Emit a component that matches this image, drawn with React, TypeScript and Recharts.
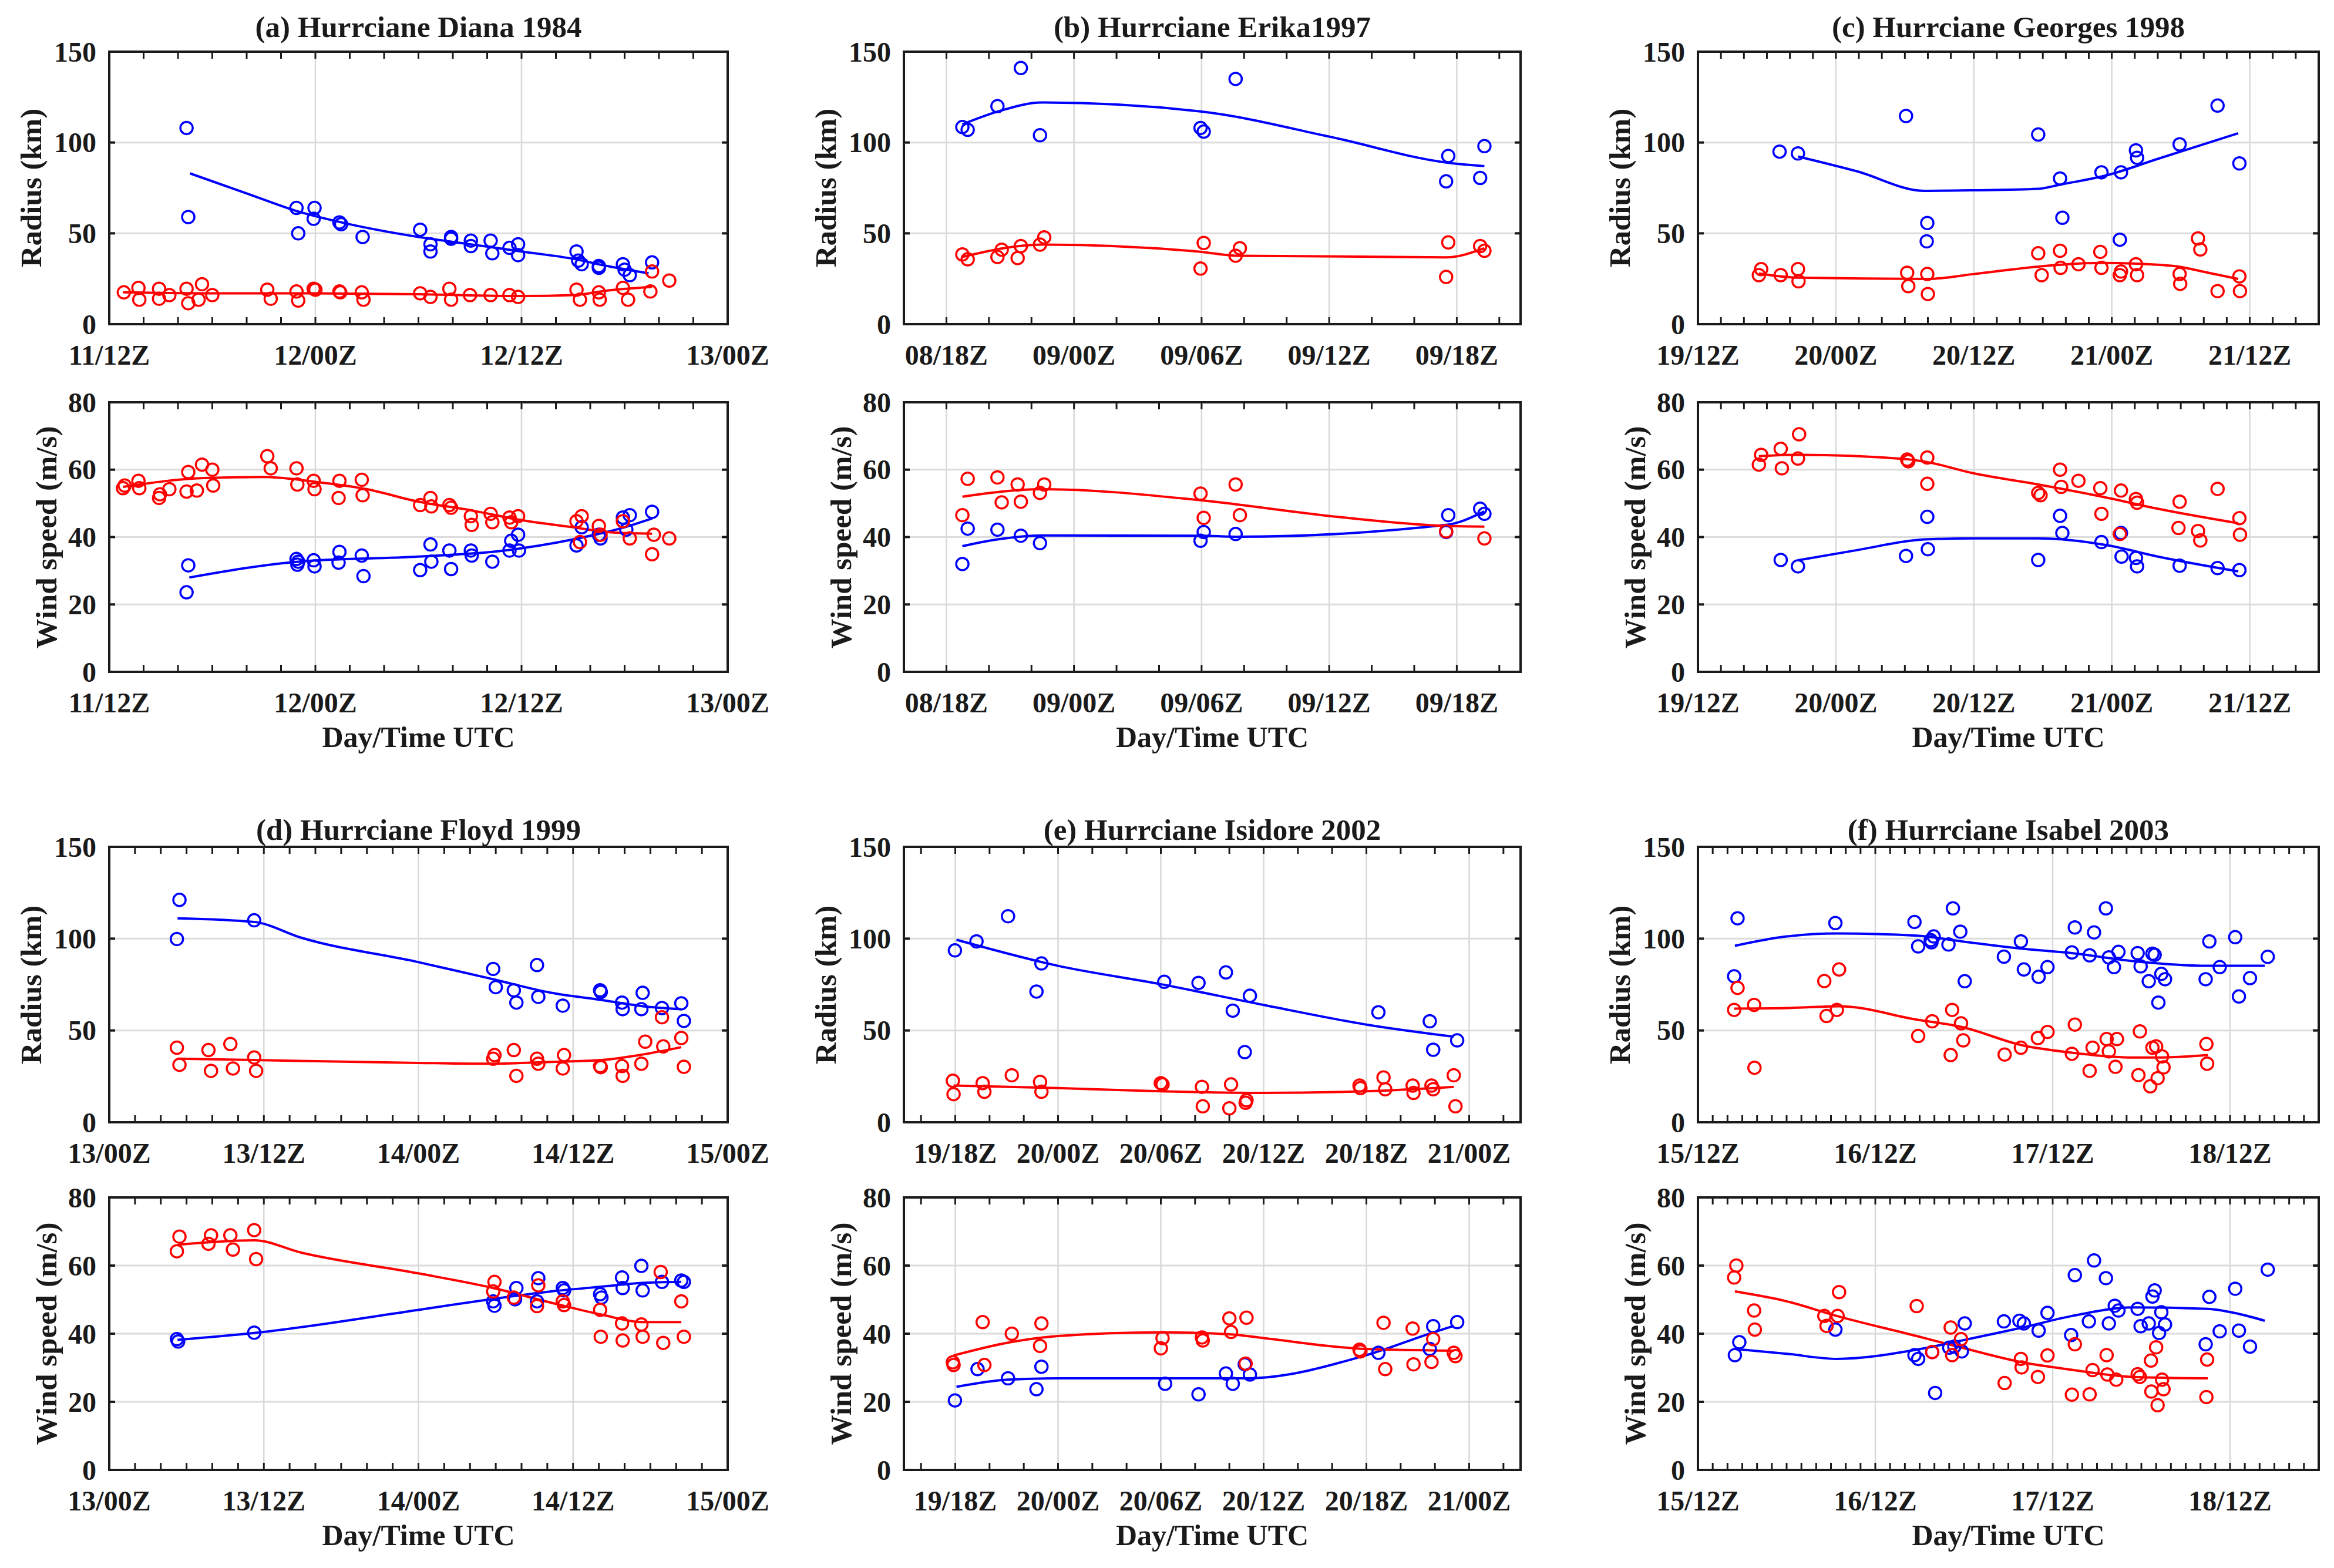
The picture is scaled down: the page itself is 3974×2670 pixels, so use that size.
import React from "react"
import { ComposedChart, XAxis, YAxis, Scatter, Line, ReferenceLine, ReferenceArea } from "recharts"

type P = [number, number]

const FONT = '"Liberation Serif", "Times New Roman", serif'
const BLUE = "#0000ff"
const RED = "#ff0000"
const INK = "#1a1a1a"

// (a) Diana 1984, hours after 11/12Z
const aLabels = ["11/12Z", "12/00Z", "12/12Z", "13/00Z"]
const aRadBlue: P[] = [[4.5,108],[4.6,59],[10.9,64],[11.0,50],[11.95,64],[11.9,58],[13.4,56],[13.5,55],[14.75,48],[18.1,52],[18.7,44],[18.7,40],[19.9,48],[19.9,47],[21.05,46],[21.05,43],[22.2,46],[22.3,39],[23.3,42],[23.8,44],[23.8,38],[27.2,40],[27.3,35],[27.5,33],[28.5,32],[28.5,31],[29.9,33],[30.0,30],[30.3,27],[31.6,34]]
const aRadBlueFit: P[] = [[4.7,83],[8,72],[11,62],[14,55],[18,48],[21,44],[24,40],[27,36],[29,32],[31.4,28]]
const aRadRed: P[] = [[0.85,17.5],[1.7,20],[1.75,13.5],[2.9,19.5],[2.9,14],[3.5,16],[4.5,19.5],[4.6,11.5],[5.2,13.5],[5.4,22],[6.0,16],[9.2,19],[9.4,14],[10.9,18],[11.0,13],[11.9,19.5],[12.0,19],[13.4,18],[13.45,17.5],[14.7,17.5],[14.8,13.5],[18.1,17],[18.7,15],[19.8,19.5],[19.9,13.5],[21.0,16],[22.2,16],[23.3,16],[23.8,15],[27.2,19],[27.4,13.5],[28.5,17.5],[28.55,13.5],[29.9,20],[30.2,13.5],[31.6,29],[31.5,18],[32.6,24]]
const aRadRedFit: P[] = [[0.8,17.5],[6,17],[12,17],[18,16.5],[24,15.5],[27,16],[29,18.5],[31.6,20.5]]
const aWindRed: P[] = [[0.8,54.5],[0.9,55.3],[1.7,56.7],[1.75,54.5],[2.9,51.6],[2.95,52.7],[3.5,54.2],[4.6,59.3],[4.5,53.5],[5.1,53.8],[5.4,61.5],[6.0,60],[6.05,55.3],[9.2,64],[9.4,60.4],[10.9,60.4],[10.95,55.6],[11.9,56.7],[11.95,54.2],[13.4,56.7],[13.35,51.6],[14.7,57],[14.75,52.4],[18.1,49.5],[18.7,51.6],[18.75,49.1],[19.8,49.5],[19.9,48.7],[21.05,46.2],[21.1,43.6],[22.2,46.9],[22.3,44.4],[23.3,45.8],[23.8,46.2],[23.4,44.4],[27.2,44.7],[27.5,46.2],[27.4,38.5],[28.5,43.3],[28.6,40.7],[29.9,44.7],[30.3,39.6],[31.7,40.7],[31.6,34.9],[32.6,39.6]]
const aWindRedFit: P[] = [[0.8,54.9],[5.5,57.5],[9,57.8],[12,56.4],[15,54.2],[18,50.5],[21,48],[24,45],[27,42.9],[29,41.5],[31.6,41]]
const aWindBlue: P[] = [[4.6,31.6],[4.5,23.6],[10.9,33.5],[11.0,32.7],[10.95,31.8],[11.9,33.1],[11.95,31.3],[13.4,35.6],[13.35,32.4],[14.7,34.5],[14.8,28.4],[18.1,30.2],[18.7,37.8],[18.75,32.7],[19.8,36],[19.9,30.5],[21.05,36],[21.1,34.5],[22.3,32.7],[23.3,36],[23.4,38.9],[23.8,40.7],[23.85,36],[27.2,37.5],[27.5,42.9],[28.5,40.7],[28.6,39.6],[29.9,45.8],[30.1,42.2],[30.3,46.5],[31.6,47.5]]
const aWindBlueFit: P[] = [[4.66,28],[11,32.7],[18,34.2],[23,36],[27,39.3],[30,42.9],[31.6,45.5]]

// (b) Erika 1997, hours after 08/16Z
const bLabels = ["08/18Z", "09/00Z", "09/06Z", "09/12Z", "09/18Z"]
const bRadBlue: P[] = [[2.75,108.5],[3.0,107],[4.4,120],[5.5,141],[6.4,104],[13.95,108],[14.1,106],[15.6,135],[25.5,78.6],[25.6,92.6],[27.1,80.5],[27.3,98]]
const bRadBlueFit: P[] = [[2.75,110],[4.4,117],[6.5,122],[14,117],[20.1,103],[25.5,89],[27.3,87]]
const bRadRed: P[] = [[2.75,38.4],[3.0,35.7],[4.4,37],[4.6,41],[5.35,36.4],[5.5,43],[6.4,43.8],[6.6,47.8],[13.95,30.6],[14.1,44.7],[15.6,37.7],[15.8,41.8],[25.5,26],[25.6,45],[27.1,43],[27.3,40.4]]
const bRadRedFit: P[] = [[2.75,37],[6.5,43.8],[14,39.8],[15.6,37.7],[25.5,36.8],[27.3,41.8]]
const bWindRed: P[] = [[2.75,46.5],[3.0,57.3],[4.4,57.7],[4.6,50.3],[5.35,55.6],[5.5,50.5],[6.4,53.1],[6.6,55.6],[13.95,52.9],[14.1,45.7],[15.6,55.6],[15.8,46.5],[25.5,41.7],[27.3,39.6]]
const bWindRedFit: P[] = [[2.75,52],[6.5,54.2],[14,50.9],[20.1,46.2],[25.5,43.3],[27.3,43.1]]
const bWindBlue: P[] = [[2.75,32],[3.0,42.5],[4.4,42.2],[5.5,40.4],[6.4,38.2],[13.95,38.9],[14.1,41.5],[15.6,40.9],[25.5,41.5],[25.6,46.5],[27.1,48.4],[27.3,46.9]]
const bWindBlueFit: P[] = [[2.75,37.3],[4.4,39.3],[6.5,40.5],[14,40.4],[15.6,40.1],[25.5,43.6],[27.3,47.6]]

// (c) Georges 1998, hours after 19/12Z
const cLabels = ["19/12Z", "20/00Z", "20/12Z", "21/00Z", "21/12Z"]
const cRadBlue: P[] = [[7.1,95],[8.7,94],[18.1,114.6],[19.95,55.7],[19.9,45.6],[29.6,104.4],[31.5,80.2],[31.7,58.6],[35.1,83.6],[36.8,83.6],[36.7,46.5],[38.1,95.7],[38.2,91.6],[41.9,99],[45.2,120.3],[47.1,88.5]]
const cRadBlueFit: P[] = [[8.7,92.3],[13.8,84.2],[19.7,73.4],[24,73.7],[29.6,74.5],[31.5,76.8],[35.7,82.2],[40,91],[47,105.1]]
const cRadRed: P[] = [[5.3,27],[5.5,30.3],[7.2,27],[8.7,30.3],[8.75,23.6],[18.2,28.3],[18.3,20.9],[19.95,27.6],[20.0,16.6],[29.6,39],[29.9,27],[31.5,40.4],[31.55,31],[33.1,33],[35,39.8],[35.1,31],[36.8,29],[36.7,27],[38.1,33],[38.2,27],[41.9,27.6],[41.95,22.2],[43.5,47.2],[43.7,41.1],[45.2,18.2],[47.1,26.3],[47.15,18.2]]
const cRadRedFit: P[] = [[5.3,27.9],[8.7,25.6],[20,24.9],[24,27.6],[29.6,31.7],[35,33.7],[38.2,33.3],[41.8,31.7],[44.4,28.3],[47,24.9]]
const cWindRed: P[] = [[5.3,61.5],[5.5,64.4],[7.2,66.2],[7.3,60.4],[8.8,70.5],[8.7,63.3],[18.2,63],[18.3,62.5],[19.95,63.6],[19.95,55.8],[29.6,53.1],[29.8,52.4],[31.5,60],[31.6,54.9],[33.1,56.7],[35,54.5],[35.1,46.9],[36.8,53.8],[36.7,40.9],[38.1,51.3],[38.2,50.2],[41.9,50.5],[41.8,42.7],[43.5,41.8],[43.7,39],[45.2,54.3],[47.1,45.6],[47.15,40.7]]
const cWindRedFit: P[] = [[5.3,64],[8.7,64.4],[18.2,63.1],[20,62.2],[24,58.9],[29.6,55.6],[35.7,51.6],[40,48.4],[47,44.1]]
const cWindBlue: P[] = [[7.2,33.2],[8.7,31.3],[18.1,34.4],[19.95,46],[20.0,36.4],[29.6,33.2],[31.5,46.3],[31.7,41.2],[35.1,38.5],[36.8,41.2],[36.85,34.2],[38.1,33.8],[38.2,31.3],[41.9,31.5],[45.2,30.8],[47.1,30.2]]
const cWindBlueFit: P[] = [[8.7,33.1],[13.8,36.1],[19.7,39.3],[24,39.6],[29.6,39.6],[35.7,37.5],[40,34.2],[47,29.8]]

// (d) Floyd 1999, hours after 13/00Z
const dLabels = ["13/00Z", "13/12Z", "14/00Z", "14/12Z", "15/00Z"]
const dRadBlue: P[] = [[5.45,121.1],[5.25,99.8],[11.25,110],[29.8,83.5],[30,73.6],[31.4,71.9],[31.6,65.2],[33.2,85.6],[33.3,68.3],[35.2,63.5],[38.1,71.9],[38.15,71],[39.8,65.2],[39.85,61.6],[41.4,70.5],[41.3,61.6],[42.9,62.2],[44.4,64.8],[44.6,55.2]]
const dRadBlueFit: P[] = [[5.3,111.1],[11.25,109.1],[14.9,100.5],[24,87.2],[29.8,77.9],[34.3,70.5],[38.2,66.6],[41.4,63.2],[44.4,61.6]]
const dRadRed: P[] = [[5.25,40.6],[5.45,31.3],[7.7,39.3],[7.9,28],[9.4,42.6],[9.6,29.3],[11.25,35.3],[11.4,28],[29.8,34.6],[29.9,36.6],[31.4,39.3],[31.6,25.3],[33.2,34.6],[33.3,31.9],[35.3,36.6],[35.2,29.3],[38.1,30.6],[38.15,30],[39.8,30.6],[39.85,25.3],[41.3,31.9],[41.6,43.9],[42.9,57.2],[43.0,41.3],[44.4,45.9],[44.6,30.2]]
const dRadRedFit: P[] = [[5.3,34.6],[11.25,33.9],[24,32.3],[29.8,31.9],[34.3,32.9],[38.2,33.9],[41.4,36.9],[44.4,40.9]]
const dWindRed: P[] = [[5.25,64.2],[5.45,68.5],[7.7,66.4],[7.9,68.9],[9.4,68.9],[9.6,64.7],[11.25,70.4],[11.4,61.9],[29.9,55.2],[29.8,52.4],[31.4,50.6],[33.2,48.1],[33.3,54.2],[35.2,49.5],[35.3,48.4],[38.1,47],[38.15,39.1],[39.8,43],[39.85,38],[41.3,42.7],[41.4,39.1],[42.8,58.1],[43.0,37.3],[44.4,49.5],[44.6,39.1]]
const dWindRedFit: P[] = [[5.3,66.1],[11.25,67.4],[14.9,63.8],[24,57.7],[29.8,53.4],[34.3,49.1],[38.2,45.6],[41.4,43.4],[44.4,43.4]]
const dWindBlue: P[] = [[5.25,38.4],[5.35,37.7],[11.25,40.3],[29.9,48.2],[29.8,49.5],[31.5,50.1],[31.6,53.4],[33.2,49.5],[33.3,56.3],[35.2,53.4],[35.3,52.7],[38.1,51.6],[38.2,50.6],[39.8,56.5],[39.85,53.4],[41.3,59.9],[41.4,52.7],[42.9,55.2],[44.4,55.6],[44.6,55.2]]
const dWindBlueFit: P[] = [[5.3,38.2],[11.25,40.2],[24,47],[29.8,50.2],[34.3,52.4],[38.2,53.8],[41.4,54.9],[44.4,55.2]]

// (e) Isidore 2002, hours after 19/15Z
const eLabels = ["19/18Z", "20/00Z", "20/06Z", "20/12Z", "20/18Z", "21/00Z"]
const eRadBlue: P[] = [[2.98,93.6],[4.24,98.5],[6.08,112.2],[8.03,86.5],[7.74,71.2],[15.2,76.5],[17.2,75.9],[18.8,81.6],[19.2,60.8],[20.2,68.9],[19.9,38.2],[27.7,59.9],[30.7,55],[30.9,39.5],[32.3,44.6]]
const eRadBlueFit: P[] = [[3.07,99.4],[9,85.2],[15,75.2],[21,63.9],[27,53.2],[32.1,46.6]]
const eRadRed: P[] = [[2.86,22.6],[2.9,15.3],[4.6,21.3],[4.7,16.6],[6.3,25.6],[7.95,22],[8.03,16.6],[15,21.3],[15.1,20.6],[17.4,19.3],[17.45,8.7],[19.1,20.6],[19.0,7.6],[20,12],[19.95,10.6],[26.6,20],[26.65,18.6],[28,24.4],[28.1,18],[29.7,20],[29.75,16],[30.8,20],[30.9,18],[32.1,25.6],[32.2,8.7]]
const eRadRedFit: P[] = [[2.9,20],[9,18.6],[15,16.9],[21,16],[27,16.9],[32.1,19.3]]
const eWindRed: P[] = [[2.86,31.6],[2.9,30.8],[4.6,43.4],[4.7,30.8],[6.3,40],[8.03,43],[7.95,36.4],[15.1,38.7],[15,35.7],[17.4,38.9],[17.45,38],[19,44.5],[19.1,40.5],[20,44.7],[19.95,31.2],[26.6,35.3],[26.65,34.8],[28,43.2],[28.1,29.6],[29.7,41.5],[29.75,31],[30.9,38.4],[30.8,31.7],[32.1,34.4],[32.2,33.4]]
const eWindRedFit: P[] = [[2.9,33.6],[6,37.3],[9,39.3],[15,40.4],[19.1,39.8],[21,38.7],[27,35.5],[32.1,35]]
const eWindBlue: P[] = [[2.98,20.4],[4.3,29.6],[6.08,26.9],[7.74,23.7],[8.03,30.3],[15.25,25.3],[17.2,22.2],[18.8,28.3],[19.2,25.3],[19.9,31],[20.2,28],[27.7,34.4],[30.7,35.5],[30.9,42.2],[32.3,43.4]]
const eWindBlueFit: P[] = [[3.07,24.4],[6.08,26.5],[9,26.9],[15,26.9],[20,26.9],[27,33.7],[30.8,40.2],[32.1,42.3]]

// (f) Isabel 2003, hours after 15/12Z
const fLabels = ["15/12Z", "16/12Z", "17/12Z", "18/12Z"]
const fRadBlue: P[] = [[5.36,111.1],[4.9,79.5],[18.6,108.5],[29.3,109.1],[29.8,95.8],[31.5,99.2],[31.9,101.2],[31.6,98],[33.9,96.8],[34.5,116.5],[35.5,103.8],[36.1,76.8],[41.4,90.2],[43.7,98.5],[44.1,83.2],[46.1,79.2],[47.3,84.5],[50.6,92.5],[51,106.1],[53,90.9],[53.6,103.4],[55.2,116.5],[55.6,89.8],[56.3,84.5],[56.9,92.8],[59.5,92.1],[59.9,84.9],[61,76.8],[61.5,91.8],[61.8,91.2],[62.3,65.2],[62.7,80.8],[63.2,77.9],[68.7,77.9],[69.2,98.5],[70.6,84.5],[72.7,100.8],[73.2,68.5],[74.7,78.5],[77.1,90.1]]
const fRadBlueFit: P[] = [[5,96.1],[12,101.2],[18.8,102.8],[29.6,101.6],[35.7,98.5],[43.9,94.5],[50.6,92.1],[58.8,87.8],[69,85.2],[76.7,85.2]]
const fRadRed: P[] = [[4.9,61.2],[5.36,73.2],[7.6,63.9],[7.65,29.7],[17.1,76.9],[19.1,83.2],[17.4,57.9],[18.8,61.2],[29.8,47],[31.7,55],[34.2,36.6],[34.4,61.2],[35.6,53.9],[35.9,44.6],[41.5,36.9],[43.7,40.6],[46,45.9],[47.3,49.2],[50.6,37.3],[51,53.2],[53,28],[53.4,40.6],[55.3,45.3],[55.6,38.6],[56.5,30.2],[56.7,45.3],[59.6,25.7],[59.8,49.5],[61.2,19.6],[61.5,40.6],[62,41.3],[62.2,24],[62.8,35.9],[63,29.9],[68.8,42.6],[68.9,31.9]]
const fRadRedFit: P[] = [[4.9,61.9],[12,62.2],[19.1,63.2],[29.6,55.9],[35.7,51.9],[43.9,41.9],[50.6,37.9],[58.8,35.3],[62.8,35.3],[69,36.6]]
const fWindRed: P[] = [[5.2,60],[4.9,56.5],[7.6,46.8],[7.7,41.2],[17.1,45.2],[17.4,42.3],[18.9,45.2],[19.1,52.2],[29.6,48.1],[31.7,34.6],[34.2,41.8],[34.4,33.7],[35.6,38.4],[41.5,25.5],[43.7,32.6],[43.8,30.1],[46,27.3],[47.3,33.6],[50.6,22.1],[51,36.9],[53,22.2],[53.4,29.3],[55.3,33.7],[55.4,28],[56.6,26.5],[59.5,28.1],[59.8,27.3],[61.3,32.1],[61.35,23],[62,36],[62.2,19],[62.8,26.5],[63,23.7],[68.9,32.4],[68.8,21.4]]
const fWindRedFit: P[] = [[5,52.4],[12,49.5],[18.8,45.2],[29.6,39.3],[35.7,35.9],[43.9,31.6],[50.6,29.4],[58.8,27.3],[69,26.9]]
const fWindBlue: P[] = [[5,33.7],[5.6,37.5],[18.6,41.2],[29.3,33.7],[29.8,32.6],[31.7,34.6],[32.1,22.6],[34,35.9],[34.7,36.2],[35.7,34.8],[36.1,43],[41.4,43.6],[43.5,43.8],[44.1,43],[46.1,40.9],[47.3,46.1],[50.5,39.6],[51,57.2],[52.9,43.6],[53.6,61.5],[55.2,56.3],[55.6,43],[56.4,48.2],[56.9,46.8],[59.5,47.3],[59.9,42.2],[61,43],[61.5,50.9],[61.8,52.7],[62.4,40.2],[62.7,46.3],[63.2,42.7],[68.7,36.9],[69.2,50.8],[70.6,40.7],[72.7,53.2],[73.2,40.9],[74.7,36.2],[77.1,58.8]]
const fWindBlueFit: P[] = [[5,35.5],[12,34.1],[18.8,32.6],[29.6,35.3],[35.7,38],[43.9,41.8],[50.6,45.2],[58.8,47.7],[69,47.3],[73,45.9],[76.7,43.8]]

const toRows = (pts: P[]) => pts.map(([t, v]) => ({ t, v }))

const ring = (color: string) => (props: any) => {
  if (props.cx == null || props.cy == null) return <g />
  return <circle cx={props.cx} cy={props.cy} r={10.5} fill="none" stroke={color} strokeWidth={3.5} />
}

const ML = 180
const MT = 30
const MR = 140
const XH = 170

interface PanelProps {
  left: number
  top: number
  w: number
  h: number
  xMax: number
  xStart: number
  xStep: number
  majors: number[]
  labels: string[]
  wind: boolean
  blue: P[]
  red: P[]
  blueFit: P[]
  redFit: P[]
  title?: string
  titleGap?: number
}

function Panel(p: PanelProps) {
  const yMax = p.wind ? 80 : 150
  const yTicks = p.wind ? [0, 20, 40, 60, 80] : [0, 50, 100, 150]
  const minor: number[] = []
  for (let t = p.xStart; t <= p.xMax; t += p.xStep) minor.push(t)

  const txt = { fontFamily: FONT, fontWeight: 700, fill: INK }

  const XTick = (props: any) => {
    const { x, y, payload } = props
    const i = p.majors.indexOf(payload.value)
    return (
      <g>
        <line x1={x} x2={x} y1={y} y2={y - 12} stroke={INK} strokeWidth={3} />
        <line x1={x} x2={x} y1={y - p.h} y2={y - p.h + 12} stroke={INK} strokeWidth={3} />
        {i >= 0 && (
          <text x={x} y={y + 52} textAnchor="middle" dominantBaseline="central" fontSize={48} {...txt}>
            {p.labels[i]}
          </text>
        )}
      </g>
    )
  }

  const YTick = (props: any) => {
    const { x, y, payload } = props
    return (
      <g>
        <line x1={x} x2={x + 10} y1={y} y2={y} stroke={INK} strokeWidth={4} />
        <line x1={x + p.w - 10} x2={x + p.w} y1={y} y2={y} stroke={INK} strokeWidth={4} />
        <text x={x - 22} y={y} textAnchor="end" dominantBaseline="central" fontSize={48} {...txt}>
          {payload.value}
        </text>
      </g>
    )
  }

  const label: React.CSSProperties = {
    position: "absolute",
    fontFamily: FONT,
    fontWeight: 700,
    fontSize: 51,
    color: INK,
    whiteSpace: "nowrap",
    lineHeight: 1,
  }

  return (
    <>
      {p.title && (
        <div style={{ ...label, left: p.left + p.w / 2, top: p.top - (p.titleGap ?? 40), transform: "translate(-50%, -50%)" }}>
          {p.title}
        </div>
      )}
      <div
        style={{
          ...label,
          left: p.left - (p.wind ? 107 : 133),
          top: p.top + p.h / 2,
          transform: "translate(-50%, -50%) rotate(-90deg)",
        }}
      >
        {p.wind ? "Wind speed (m/s)" : "Radius (km)"}
      </div>
      {p.wind && (
        <div style={{ ...label, fontSize: 50, left: p.left + p.w / 2, top: p.top + p.h + 111, transform: "translate(-50%, -50%)" }}>
          Day/Time UTC
        </div>
      )}
      <div style={{ position: "absolute", left: p.left - ML, top: p.top - MT }}>
        <ComposedChart width={p.w + ML + MR} height={p.h + MT + XH} margin={{ top: MT, right: MR, bottom: 0, left: 0 }}>
          <XAxis
            type="number"
            dataKey="t"
            domain={[0, p.xMax]}
            ticks={minor}
            interval={0}
            tick={XTick}
            tickSize={0}
            tickMargin={0}
            tickLine={false}
            axisLine={false}
            height={XH}
            allowDataOverflow
          />
          <YAxis
            type="number"
            dataKey="v"
            domain={[0, yMax]}
            ticks={yTicks}
            interval={0}
            tick={YTick}
            tickSize={0}
            tickMargin={0}
            tickLine={false}
            axisLine={false}
            width={ML}
            allowDataOverflow
          />
          {yTicks
            .filter((v) => v > 0 && v < yMax)
            .map((v) => (
              <ReferenceLine key={"h" + v} y={v} stroke="#dcdcdc" strokeWidth={3} />
            ))}
          {p.majors
            .filter((m) => m > 0 && m < p.xMax)
            .map((m) => (
              <ReferenceLine key={"v" + m} x={m} stroke="#d9d9d9" strokeWidth={2.5} />
            ))}
          <ReferenceArea x1={0} x2={p.xMax} y1={0} y2={yMax} fill="none" fillOpacity={0} stroke={INK} strokeWidth={4} />
          <Line data={toRows(p.blueFit)} dataKey="v" type="monotone" stroke={BLUE} strokeWidth={4} dot={false} isAnimationActive={false} />
          <Line data={toRows(p.redFit)} dataKey="v" type="monotone" stroke={RED} strokeWidth={4} dot={false} isAnimationActive={false} />
          <Scatter data={toRows(p.blue)} dataKey="v" shape={ring(BLUE)} isAnimationActive={false} />
          <Scatter data={toRows(p.red)} dataKey="v" shape={ring(RED)} isAnimationActive={false} />
        </ComposedChart>
      </div>
    </>
  )
}

const colLeft = [186, 1539, 2891]
const colWidth = [1053, 1050, 1057]

export default function App() {
  return (
    <div style={{ position: "absolute", left: 0, top: 0, width: 3974, height: 2670, background: "#fff", overflow: "hidden" }}>
      {/* row 1 */}
      <Panel left={colLeft[0]} top={88} w={colWidth[0]} h={464} xMax={36} xStart={0} xStep={2} majors={[0, 12, 24, 36]} labels={aLabels} wind={false}
        blue={aRadBlue} red={aRadRed} blueFit={aRadBlueFit} redFit={aRadRedFit} title="(a) Hurrciane Diana 1984" titleGap={42} />
      <Panel left={colLeft[0]} top={685} w={colWidth[0]} h={459} xMax={36} xStart={0} xStep={2} majors={[0, 12, 24, 36]} labels={aLabels} wind
        blue={aWindBlue} red={aWindRed} blueFit={aWindBlueFit} redFit={aWindRedFit} />

      <Panel left={colLeft[1]} top={88} w={colWidth[1]} h={464} xMax={29} xStart={0} xStep={2} majors={[2, 8, 14, 20, 26]} labels={bLabels} wind={false}
        blue={bRadBlue} red={bRadRed} blueFit={bRadBlueFit} redFit={bRadRedFit} title="(b) Hurrciane Erika1997" titleGap={42} />
      <Panel left={colLeft[1]} top={685} w={colWidth[1]} h={459} xMax={29} xStart={0} xStep={2} majors={[2, 8, 14, 20, 26]} labels={bLabels} wind
        blue={bWindBlue} red={bWindRed} blueFit={bWindBlueFit} redFit={bWindRedFit} />

      <Panel left={colLeft[2]} top={88} w={colWidth[2]} h={464} xMax={54} xStart={0} xStep={2} majors={[0, 12, 24, 36, 48]} labels={cLabels} wind={false}
        blue={cRadBlue} red={cRadRed} blueFit={cRadBlueFit} redFit={cRadRedFit} title="(c) Hurrciane Georges 1998" titleGap={42} />
      <Panel left={colLeft[2]} top={685} w={colWidth[2]} h={459} xMax={54} xStart={0} xStep={2} majors={[0, 12, 24, 36, 48]} labels={cLabels} wind
        blue={cWindBlue} red={cWindRed} blueFit={cWindBlueFit} redFit={cWindRedFit} />

      {/* row 2 */}
      <Panel left={colLeft[0]} top={1442} w={colWidth[0]} h={469} xMax={48} xStart={0} xStep={2} majors={[0, 12, 24, 36, 48]} labels={dLabels} wind={false}
        blue={dRadBlue} red={dRadRed} blueFit={dRadBlueFit} redFit={dRadRedFit} title="(d) Hurrciane Floyd 1999" titleGap={29} />
      <Panel left={colLeft[0]} top={2039} w={colWidth[0]} h={464} xMax={48} xStart={0} xStep={2} majors={[0, 12, 24, 36, 48]} labels={dLabels} wind
        blue={dWindBlue} red={dWindRed} blueFit={dWindBlueFit} redFit={dWindRedFit} />

      <Panel left={colLeft[1]} top={1442} w={colWidth[1]} h={469} xMax={36} xStart={1} xStep={2} majors={[3, 9, 15, 21, 27, 33]} labels={eLabels} wind={false}
        blue={eRadBlue} red={eRadRed} blueFit={eRadBlueFit} redFit={eRadRedFit} title="(e) Hurrciane Isidore 2002" titleGap={29} />
      <Panel left={colLeft[1]} top={2039} w={colWidth[1]} h={464} xMax={36} xStart={1} xStep={2} majors={[3, 9, 15, 21, 27, 33]} labels={eLabels} wind
        blue={eWindBlue} red={eWindRed} blueFit={eWindBlueFit} redFit={eWindRedFit} />

      <Panel left={colLeft[2]} top={1442} w={colWidth[2]} h={469} xMax={84} xStart={0} xStep={2} majors={[0, 24, 48, 72]} labels={fLabels} wind={false}
        blue={fRadBlue} red={fRadRed} blueFit={fRadBlueFit} redFit={fRadRedFit} title="(f) Hurrciane Isabel 2003" titleGap={29} />
      <Panel left={colLeft[2]} top={2039} w={colWidth[2]} h={464} xMax={84} xStart={0} xStep={2} majors={[0, 24, 48, 72]} labels={fLabels} wind
        blue={fWindBlue} red={fWindRed} blueFit={fWindBlueFit} redFit={fWindRedFit} />
    </div>
  )
}
